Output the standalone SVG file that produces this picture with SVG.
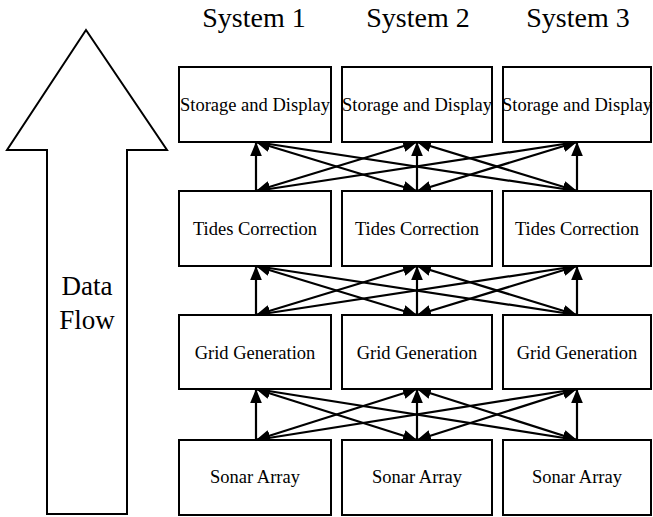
<svg xmlns="http://www.w3.org/2000/svg" width="653" height="517" viewBox="0 0 653 517">
<defs>
<style>
.box{fill:#fff;stroke:#000;stroke-width:2}
.lbl{font-family:"Liberation Serif","Times New Roman",serif;font-size:18.5px;text-anchor:middle;fill:#000}
.hdr{font-family:"Liberation Serif","Times New Roman",serif;font-size:28px;text-anchor:middle;fill:#000}
.big{font-family:"Liberation Serif","Times New Roman",serif;font-size:27px;text-anchor:middle;fill:#000}
.c{stroke:#000;stroke-width:2.2;fill:none}
.u{marker-end:url(#ah)}
.b{marker-start:url(#ah);marker-end:url(#ah)}
</style>
<marker id="ah" markerUnits="userSpaceOnUse" markerWidth="14" markerHeight="12" refX="12" refY="5" orient="auto-start-reverse" viewBox="0 0 12 10">
<path d="M0,0 L12,5 L0,10 Z" fill="#000"/>
</marker>
</defs>
<rect width="653" height="517" fill="#fff"/>
<g id="flow-arrow">
<polygon points="86,30 167,150 127,150 127,514 47,514 47,150 7,150" fill="#fff" stroke="#000" stroke-width="2"/>
<text class="big" x="87" y="295">Data</text>
<text class="big" x="87" y="329">Flow</text>
</g>
<g id="headers">
<text class="hdr" x="254" y="27">System 1</text>
<text class="hdr" x="418" y="27">System 2</text>
<text class="hdr" x="578" y="27">System 3</text>
</g>
<g id="connectors">
<line class="c u" x1="256" y1="191" x2="256" y2="142"/>
<line class="c u" x1="417" y1="191" x2="417" y2="142"/>
<line class="c u" x1="577" y1="191" x2="577" y2="142"/>
<line class="c b" x1="256" y1="191" x2="417" y2="142"/>
<line class="c b" x1="256" y1="191" x2="577" y2="142"/>
<line class="c b" x1="417" y1="191" x2="256" y2="142"/>
<line class="c b" x1="417" y1="191" x2="577" y2="142"/>
<line class="c b" x1="577" y1="191" x2="256" y2="142"/>
<line class="c b" x1="577" y1="191" x2="417" y2="142"/>
<line class="c u" x1="256" y1="315" x2="256" y2="266"/>
<line class="c u" x1="417" y1="315" x2="417" y2="266"/>
<line class="c u" x1="577" y1="315" x2="577" y2="266"/>
<line class="c b" x1="256" y1="315" x2="417" y2="266"/>
<line class="c b" x1="256" y1="315" x2="577" y2="266"/>
<line class="c b" x1="417" y1="315" x2="256" y2="266"/>
<line class="c b" x1="417" y1="315" x2="577" y2="266"/>
<line class="c b" x1="577" y1="315" x2="256" y2="266"/>
<line class="c b" x1="577" y1="315" x2="417" y2="266"/>
<line class="c u" x1="256" y1="440" x2="256" y2="389"/>
<line class="c u" x1="417" y1="440" x2="417" y2="389"/>
<line class="c u" x1="577" y1="440" x2="577" y2="389"/>
<line class="c b" x1="256" y1="440" x2="417" y2="389"/>
<line class="c b" x1="256" y1="440" x2="577" y2="389"/>
<line class="c b" x1="417" y1="440" x2="256" y2="389"/>
<line class="c b" x1="417" y1="440" x2="577" y2="389"/>
<line class="c b" x1="577" y1="440" x2="256" y2="389"/>
<line class="c b" x1="577" y1="440" x2="417" y2="389"/>
</g>
<g id="storage1"><rect class="box" x="179" y="67" width="152" height="75"/><text class="lbl" x="255" y="111">Storage and Display</text></g>
<g id="storage2"><rect class="box" x="342" y="67" width="150" height="75"/><text class="lbl" x="417" y="111">Storage and Display</text></g>
<g id="storage3"><rect class="box" x="503" y="67" width="148" height="75"/><text class="lbl" x="577" y="111">Storage and Display</text></g>
<g id="tides1"><rect class="box" x="179" y="191" width="152" height="75"/><text class="lbl" x="255" y="235">Tides Correction</text></g>
<g id="tides2"><rect class="box" x="342" y="191" width="150" height="75"/><text class="lbl" x="417" y="235">Tides Correction</text></g>
<g id="tides3"><rect class="box" x="503" y="191" width="148" height="75"/><text class="lbl" x="577" y="235">Tides Correction</text></g>
<g id="grid1"><rect class="box" x="179" y="315" width="152" height="74"/><text class="lbl" x="255" y="359">Grid Generation</text></g>
<g id="grid2"><rect class="box" x="342" y="315" width="150" height="74"/><text class="lbl" x="417" y="359">Grid Generation</text></g>
<g id="grid3"><rect class="box" x="503" y="315" width="148" height="74"/><text class="lbl" x="577" y="359">Grid Generation</text></g>
<g id="sonar1"><rect class="box" x="179" y="440" width="152" height="75"/><text class="lbl" x="255" y="483">Sonar Array</text></g>
<g id="sonar2"><rect class="box" x="342" y="440" width="150" height="75"/><text class="lbl" x="417" y="483">Sonar Array</text></g>
<g id="sonar3"><rect class="box" x="503" y="440" width="148" height="75"/><text class="lbl" x="577" y="483">Sonar Array</text></g>
</svg>
